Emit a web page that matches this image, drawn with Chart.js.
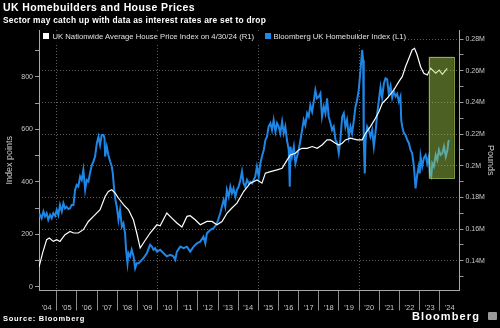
<!DOCTYPE html>
<html>
<head>
<meta charset="utf-8">
<script src="https://cdn.jsdelivr.net/npm/chart.js@4.4.1/dist/chart.umd.min.js"></script>
<style>
  html, body { margin:0; padding:0; background:#000; }
  #wrap { position:relative; width:500px; height:328px; background:#000; overflow:hidden; font-family:"Liberation Sans", Arial, sans-serif; }
  #c { position:absolute; left:0; top:0; }
  .t { position:absolute; white-space:nowrap; color:#fff; line-height:1; }
  #title { left:3px; top:1.8px; font-size:10.5px; font-weight:bold; }
  #sub { left:3px; top:16.2px; font-size:8.4px; font-weight:bold; }
  #legend { position:absolute; left:40px; top:31px; height:12px; width:368px; background:#000; }
  .sq { position:absolute; top:2.3px; width:6px; height:6px; }
  .lt { position:absolute; top:1.8px; font-size:7.7px; line-height:1; color:#e0e0e0; white-space:nowrap; }
  #src { left:3px; top:315.3px; font-size:7.5px; font-weight:bold; }
  #logo { left:412px; top:310.7px; font-size:11px; font-weight:bold; }
  #icon { position:absolute; left:488px; top:312px; width:9px; height:8px; background:#9a9a9a; border-radius:1px; }
</style>
</head>
<body>
<div id="wrap">
  <canvas id="c" width="500" height="328"></canvas>
  <div class="t" id="title">UK Homebuilders and House Prices</div>
  <div class="t" id="sub">Sector may catch up with data as interest rates are set to drop</div>
  <div id="legend">
    <div class="sq" style="left:3.3px;background:#fff"></div>
    <div class="lt" id="leg1" style="left:12.5px">UK Nationwide Average House Price Index on 4/30/24 (R1)</div>
    <div class="sq" style="left:225.3px;background:#1e88e5"></div>
    <div class="lt" id="leg2" style="left:233.5px">Bloomberg UK Homebuilder Index (L1)</div>
  </div>
  <div class="t" id="src">Source: Bloomberg</div>
  <div class="t" id="logo">Bloomberg</div>
  <div id="icon"></div>
</div>
<script>
// ---- data (decimal years) ----
const yearTicks = [2004,2005,2006,2007,2008,2009,2010,2011,2012,2013,2014,2015,2016,2017,2018,2019,2020,2021,2022,2023,2024];
const yearLabels = ["'04","'05","'06","'07","'08","'09","'10","'11","'12","'13","'14","'15","'16","'17","'18","'19","'20","'21","'22","'23","'24"];
const leftTicks = [0,100,200,300,400,500,600,700,800,900];
const rightTicks = [130000,140000,150000,160000,170000,180000,190000,200000,210000,220000,230000,240000,250000,260000,270000,280000];

const houseYears = [2004.12,2004.3,2004.5,2004.63,2004.83,2005.0,2005.16,2005.41,2005.66,2005.83,2006.07,2006.32,2006.57,2006.82,2007.15,2007.4,2007.56,2007.73,2007.9,2008.06,2008.31,2008.56,2008.8,2008.97,2009.14,2009.3,2009.63,2009.97,2010.13,2010.46,2010.71,2010.96,2011.21,2011.46,2011.62,2011.87,2012.12,2012.45,2012.7,2012.95,2013.2,2013.45,2013.69,2013.94,2014.27,2014.6,2014.94,2015.18,2015.35,2015.6,2015.93,2016.18,2016.43,2016.59,2016.84,2017.0,2017.17,2017.42,2017.67,2017.92,2018.16,2018.41,2018.58,2018.83,2018.99,2019.16,2019.32,2019.57,2019.9,2020.15,2020.32,2020.56,2020.81,2020.98,2021.15,2021.39,2021.72,2021.97,2022.14,2022.3,2022.47,2022.63,2022.75,2022.88,2023.05,2023.21,2023.38,2023.55,2023.72,2023.8,2023.97,2024.13,2024.3,2024.37];
const houseValues = [136000,145000,153300,154300,152200,153300,152200,156400,158500,157500,157500,159600,164800,168000,172200,180600,183800,184800,182700,179600,175400,172200,165900,157500,148000,151200,157500,162700,162100,170100,166900,163800,161300,168000,168400,165900,162700,164800,164800,162700,164800,170100,173300,176400,183700,189000,191000,189000,195300,196300,197400,198400,203700,206800,207900,210000,211000,211000,212100,211000,213100,216300,216300,214200,213100,214200,216300,217400,216300,216300,220500,224700,230000,234100,239400,242600,247800,253100,256200,262500,267800,273100,274100,269900,262500,258400,257300,261500,259400,258400,260400,257700,260400,261500];

const builderYears = [2004.12,2004.17,2004.25,2004.34,2004.42,2004.5,2004.58,2004.67,2004.75,2004.83,2004.92,2005.0,2005.08,2005.16,2005.25,2005.33,2005.41,2005.49,2005.58,2005.66,2005.74,2005.83,2005.91,2005.99,2006.07,2006.16,2006.24,2006.32,2006.41,2006.49,2006.57,2006.65,2006.74,2006.82,2006.9,2006.99,2007.07,2007.15,2007.23,2007.32,2007.37,2007.4,2007.48,2007.56,2007.65,2007.73,2007.78,2007.85,2007.91,2007.98,2008.06,2008.14,2008.23,2008.31,2008.39,2008.44,2008.51,2008.56,2008.64,2008.72,2008.81,2008.89,2008.97,2009.06,2009.14,2009.3,2009.47,2009.63,2009.72,2009.8,2009.88,2009.97,2010.13,2010.3,2010.46,2010.63,2010.79,2010.88,2010.96,2011.13,2011.29,2011.46,2011.62,2011.79,2011.95,2012.12,2012.28,2012.37,2012.45,2012.62,2012.78,2012.95,2013.11,2013.28,2013.36,2013.44,2013.53,2013.61,2013.69,2013.77,2013.86,2013.94,2014.02,2014.11,2014.19,2014.27,2014.35,2014.44,2014.52,2014.6,2014.69,2014.77,2014.85,2014.93,2015.02,2015.1,2015.18,2015.27,2015.35,2015.43,2015.51,2015.6,2015.68,2015.76,2015.85,2015.93,2016.01,2016.09,2016.18,2016.26,2016.34,2016.42,2016.51,2016.56,2016.59,2016.67,2016.76,2016.84,2016.92,2017.0,2017.09,2017.17,2017.25,2017.33,2017.42,2017.5,2017.58,2017.67,2017.75,2017.83,2017.91,2018.0,2018.08,2018.16,2018.25,2018.33,2018.41,2018.49,2018.58,2018.66,2018.74,2018.83,2018.91,2018.99,2019.07,2019.16,2019.24,2019.32,2019.4,2019.49,2019.57,2019.65,2019.74,2019.82,2019.9,2019.98,2020.07,2020.15,2020.2,2020.23,2020.28,2020.32,2020.4,2020.48,2020.56,2020.65,2020.73,2020.81,2020.9,2020.98,2021.06,2021.14,2021.23,2021.31,2021.39,2021.47,2021.56,2021.64,2021.72,2021.81,2021.89,2021.97,2022.05,2022.09,2022.14,2022.22,2022.3,2022.39,2022.47,2022.55,2022.63,2022.72,2022.8,2022.88,2022.96,2023.01,2023.05,2023.13,2023.21,2023.3,2023.38,2023.46,2023.51,2023.58,2023.63,2023.71,2023.8,2023.88,2023.96,2024.04,2024.13,2024.21,2024.3,2024.38,2024.43,2024.46];
const builderValues = [267,274,261,287,268,280,255,274,261,280,270,293,274,312,287,318,299,305,296,299,312,312,369,388,382,420,407,445,369,407,401,433,464,477,496,547,572,540,578,578,566,496,534,502,477,458,433,369,331,305,255,293,229,242,204,141,90,128,116,141,116,71,90,90,96,109,128,160,153,141,147,134,141,128,116,122,116,103,134,153,147,153,134,153,166,172,191,166,204,217,223,242,280,331,305,369,343,381,356,375,343,369,381,407,439,394,381,407,394,400,394,407,420,458,420,470,496,521,559,572,610,623,597,635,591,623,610,585,629,585,610,559,521,381,534,496,534,470,496,521,559,597,635,616,661,648,692,667,705,749,718,724,737,648,686,661,718,648,623,597,610,559,547,509,559,648,661,610,635,572,610,585,635,686,711,749,825,902,863,559,432,559,610,597,572,597,534,585,661,711,760,720,775,794,790,737,765,720,745,725,735,705,724,635,610,585,578,559,547,521,509,458,375,426,458,432,496,458,490,502,470,496,432,420,470,458,502,483,521,502,509,534,496,521,553,559];

// highlighted period (box)
const highlightYears = [2023.45, 2024.70];
const highlightPounds = [192100, 268800];

// ---- fit header/footer text to the reference widths ----
function fitSpacing(id, target){
  const el = document.getElementById(id);
  el.style.letterSpacing = '0px';
  const w = el.getBoundingClientRect().width;
  const n = el.textContent.length;
  el.style.letterSpacing = ((target - w) / n) + 'px';
  return (target - w) / n;
}
fitSpacing('title', 192);
fitSpacing('sub', 263);
const ls = fitSpacing('leg2', 132.5);
document.getElementById('leg1').style.letterSpacing = ls + 'px';
fitSpacing('src', 82);
fitSpacing('logo', 68);

const houseData = houseYears.map((t,i)=>({x:t, y:houseValues[i]}));
const builderData = builderYears.map((t,i)=>({x:t, y:builderValues[i]}));

const xTickValues = [];
yearTicks.forEach((y)=>{ if (y>2004) xTickValues.push(y); xTickValues.push(y+0.5); });
const labelFor = {};
yearTicks.forEach((y,i)=>{ labelFor[(y+0.5).toFixed(1)] = yearLabels[i]; });

const FONT = "Liberation Sans, Arial, sans-serif";
const axisCol = '#a8a8a8';
const gridCol = '#5c5c5c';
const labelCol = '#c8c8c8';

const highlightPlugin = {
  id:'highlight',
  afterDatasetsDraw(chart){
    const {ctx, scales:{x, y2}} = chart;
    const x0 = x.getPixelForValue(highlightYears[0]);
    const x1 = x.getPixelForValue(highlightYears[1]);
    const yTop = y2.getPixelForValue(highlightPounds[1]);
    const yBot = y2.getPixelForValue(highlightPounds[0]);
    ctx.save();
    ctx.fillStyle = 'rgba(168,212,78,0.45)';
    ctx.fillRect(x0, yTop, x1-x0, yBot-yTop);
    ctx.strokeStyle = 'rgba(175,215,95,0.7)';
    ctx.lineWidth = 1;
    ctx.strokeRect(Math.round(x0)+0.5, Math.round(yTop)+0.5, Math.round(x1-x0), Math.round(yBot-yTop));
    ctx.restore();
  }
};

new Chart(document.getElementById('c'), {
  type:'line',
  data:{
    datasets:[
      {label:'UK Nationwide Average House Price Index on 4/30/24 (R1)', data:houseData, yAxisID:'y2', borderColor:'#ffffff', borderWidth:1.2, pointRadius:0, tension:0},
      {label:'Bloomberg UK Homebuilder Index (L1)', data:builderData, yAxisID:'y', borderColor:'#1f86e6', borderWidth:2, pointRadius:0, tension:0}
    ]
  },
  options:{
    responsive:false, animation:false, devicePixelRatio:1,
    layout:{padding:{top:30, left:0, right:0, bottom:0}},
    plugins:{legend:{display:false}, tooltip:{enabled:false}, title:{display:false}},
    scales:{
      x:{
        type:'linear', position:'bottom', min:2004.12, max:2024.98,
        afterBuildTicks(s){ s.ticks = xTickValues.map(v=>({value:v})); },
        afterFit(s){ s.height = 37.5; },
        ticks:{ autoSkip:false, maxRotation:0, minRotation:0, color:labelCol, font:{family:FONT, size:7.5}, padding:-7,
          callback(v){ return labelFor[Number(v).toFixed(1)] || ''; } },
        grid:{ drawOnChartArea:true, drawTicks:true, tickLength:20,
          color(ctx){ const v = ctx.tick && ctx.tick.value; return (Number.isInteger(v) && v%5===0) ? gridCol : 'transparent'; },
          tickColor(ctx){ const v = ctx.tick && ctx.tick.value; return Number.isInteger(v) ? '#8a8a8a' : 'transparent'; },
          tickBorderDash:[], lineWidth:1 },
        border:{ display:true, color:axisCol, dash:[1,2] }
      },
      y:{
        type:'linear', position:'left', min:-14, max:978,
        afterBuildTicks(s){ s.ticks = leftTicks.map(v=>({value:v})); },
        afterFit(s){ s.width = 39; },
        ticks:{ color:labelCol, font:{family:FONT, size:7}, padding:2, callback(v){ return v%200===0 ? String(v) : ''; } },
        grid:{ drawOnChartArea:false, drawTicks:true, tickLength:4, tickColor:'#9a9a9a' },
        border:{ display:true, color:axisCol },
        title:{ display:true, text:'Index points', color:labelCol, font:{family:FONT, size:9}, padding:{top:4, bottom:0} }
      },
      y2:{
        type:'linear', position:'right', min:121200, max:285700,
        afterBuildTicks(s){ s.ticks = rightTicks.map(v=>({value:v})); },
        afterFit(s){ s.width = 40.5; },
        ticks:{ color:labelCol, font:{family:FONT, size:7}, padding:2,
          callback(v){ return v%20000===0 ? String(Number((v/1e6).toFixed(2)))+'M' : ''; } },
        grid:{ drawOnChartArea:true, drawTicks:true, tickLength:4,
          color(ctx){ const v = ctx.tick && ctx.tick.value; return (v%20000===0) ? gridCol : 'transparent'; },
          tickColor:'#9a9a9a', tickBorderDash:[] },
        border:{ display:true, color:axisCol, dash:[1,2] },
        title:{ display:true, text:'Pounds', color:labelCol, font:{family:FONT, size:9}, padding:{top:4, bottom:0} }
      }
    }
  },
  plugins:[highlightPlugin]
});
</script>
</body>
</html>
